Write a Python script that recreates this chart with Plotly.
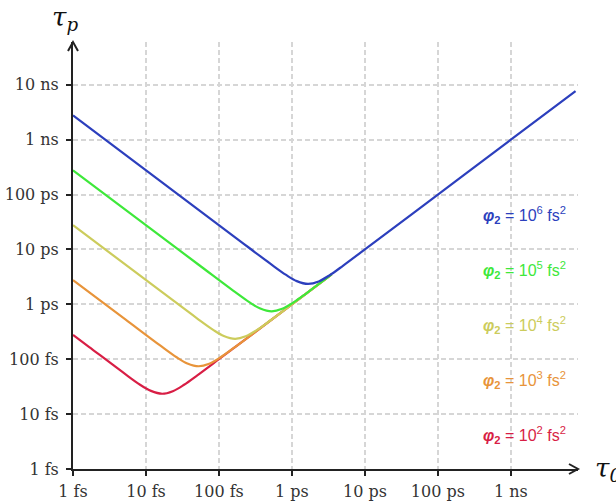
import plotly.graph_objects as go

# Output pulse duration tau_p versus input duration tau_0 (both in fs),
# one curve per group-delay dispersion phi_2.
phi2_exponents = [2, 3, 4, 5, 6]
curve_colors = ["#d81e45", "#e8943a", "#cccc5c", "#3ee83a", "#2c3fbd"]

tau0_red = [1, 1.67, 5.0, 8.3, 11.7, 16.65, 23.3, 33.3, 50, 100, 300, 1000, 3500]
taup_red = [277.3, 166.5, 55.7, 34.3, 26.5, 23.5, 26.2, 34.3, 50.3, 100, 300, 1000, 3500]

tau0_orange = [1, 5.27, 15.8, 26.3, 36.9, 52.7, 73.7, 105.3, 158, 300, 1000, 3500]
taup_orange = [2773, 526.6, 176.2, 108.6, 83.8, 74.5, 82.8, 108.6, 159, 300, 1000, 3500]

tau0_yellow = [1, 16.65, 50, 83.3, 116.6, 166.5, 233, 333, 500, 1000, 3500]
taup_yellow = [27730, 1665, 557, 343.3, 264.9, 235.5, 261.7, 343.3, 502.6, 1001, 3500]

tau0_green = [1, 52.7, 158, 263.3, 368.6, 526.6, 737, 1053, 1580, 3500]
taup_green = [277260, 5266, 1762.5, 1085.6, 837.7, 744.7, 827.7, 1085.6, 1589.5, 3501]

tau0_blue = [1, 166.5, 500, 832.6, 1166, 1665, 2331, 3330, 4995, 1e4, 1e5, 1e6, 7.7e6]
taup_blue = [2.7726e6, 16651, 5573, 3433, 2649, 2355, 2617, 3433, 5026, 10004, 1e5, 1e6, 7.7e6]

curves_x = [tau0_red, tau0_orange, tau0_yellow, tau0_green, tau0_blue]
curves_y = [taup_red, taup_orange, taup_yellow, taup_green, taup_blue]

x_tickvals = [1, 10, 100, 1e3, 1e4, 1e5, 1e6]
x_ticktext = ["1 fs", "10 fs", "100 fs", "1 ps", "10 ps", "100 ps", "1 ns"]
y_tickvals = [1, 10, 100, 1e3, 1e4, 1e5, 1e6, 1e7]
y_ticktext = ["1 fs", "10 fs", "100 fs", "1 ps", "10 ps", "100 ps", "1 ns", "10 ns"]

fig = go.Figure()
for xs, ys, col in zip(curves_x, curves_y, curve_colors):
    fig.add_trace(go.Scatter(
        x=xs, y=ys, mode="lines",
        line=dict(color=col, width=2.2, shape="spline", smoothing=1.0),
        showlegend=False, hoverinfo="skip",
    ))

tick_font = dict(family="DejaVu Serif", size=16, color="#333333")
common_axis = dict(
    type="log", showline=True, linewidth=2, linecolor="#222222",
    ticks="outside", ticklen=5, tickwidth=2, tickcolor="#222222",
    showgrid=True, gridcolor="#d6d6d6", gridwidth=1.6, griddash="5px,3px",
    zeroline=False, tickfont=tick_font, mirror=False, automargin=False,
)
fig.update_xaxes(range=[0, 6.92], tickvals=x_tickvals, ticktext=x_ticktext,
                 ticklabelstandoff=2, **common_axis)
fig.update_yaxes(range=[0, 7.78], tickvals=y_tickvals, ticktext=y_ticktext,
                 ticklabelstandoff=4, **common_axis)

# arrowheads at the ends of both axes
fig.add_shape(type="path", xref="paper", yref="paper", xsizemode="pixel",
              ysizemode="pixel", xanchor=1, yanchor=0,
              path="M -9 -5 L 0 0 L -9 5", line=dict(color="#222222", width=2))
fig.add_shape(type="path", xref="paper", yref="paper", xsizemode="pixel",
              ysizemode="pixel", xanchor=0, yanchor=1,
              path="M -5 -9 L 0 0 L 5 -9", line=dict(color="#222222", width=2))

# axis titles
fig.add_annotation(xref="paper", yref="paper", x=0.0, y=1.0, xshift=-8,
                   yshift=24, xanchor="center", yanchor="middle",
                   text="<i>τ<sub>p</sub></i>", showarrow=False,
                   font=dict(family="DejaVu Serif", size=26, color="#111111"))
fig.add_annotation(xref="paper", yref="paper", x=1.0, y=0.0, xshift=15,
                   xanchor="left", yanchor="middle",
                   text="<i>τ<sub>0</sub></i>", showarrow=False,
                   font=dict(family="DejaVu Serif", size=26, color="#111111"))

# dispersion labels, one per curve
label_y = [0.62, 1.62, 2.62, 3.62, 4.63]
for e, col, ly in zip(phi2_exponents, curve_colors, label_y):
    fig.add_annotation(
        x=6.18, y=ly, xref="x", yref="y", showarrow=False,
        text=f"<b><i>φ</i><sub>2</sub></b> = 10<sup>{e}</sup> fs<sup>2</sup>",
        font=dict(family="Liberation Sans", size=16, color=col),
    )

fig.update_layout(
    width=616, height=502,
    margin=dict(l=73, r=38, t=42, b=33, autoexpand=False),
    paper_bgcolor="white", plot_bgcolor="white",
)

fig.write_html("out.html")
